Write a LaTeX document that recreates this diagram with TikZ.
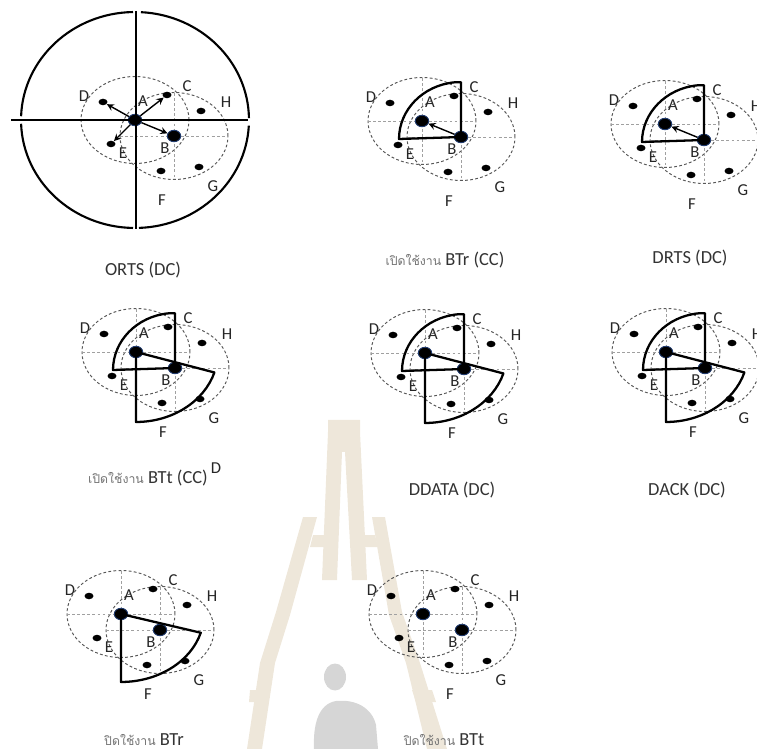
\documentclass[tikz,border=0pt]{standalone}
\usepackage{fontspec}
\setmainfont{Carlito}
\newfontfamily\thaifont[Script=Thai]{Loma}
\usetikzlibrary{shapes,arrows,positioning}

\definecolor{towerbeige}{HTML}{EEE7DA}
\definecolor{shadowgray}{HTML}{D6D6D6}
\definecolor{rangegray}{HTML}{585858}
\definecolor{gridgray}{HTML}{A0A0A0}
\definecolor{dotrim}{HTML}{1F3A6E}

\newcommand{\thaiword}[1]{{\thaifont\fontsize{7}{8}\selectfont\color{black!55}#1}}

\tikzset{
    reach/.style={draw=rangegray, dash pattern=on 1.6pt off 1.3pt, line width=0.55pt},
    quadline/.style={draw=gridgray, dash pattern=on 1.6pt off 1.3pt, line width=0.45pt},
    station/.style={ellipse, fill=black, inner sep=0pt, minimum width=0.18cm, minimum height=0.13cm},
    mainstation/.style={ellipse, fill=black, draw=dotrim, line width=0.5pt, inner sep=0pt,
        minimum width=0.27cm, minimum height=0.23cm},
    lbl/.style={font=\fontsize{9.5}{10}\selectfont, text=black!85, inner sep=0pt},
    stagecap/.style={font=\fontsize{10.5}{12}\selectfont, text=black!80, inner sep=0pt},
    sector/.style={draw=black, line width=1.3pt, line join=round},
    wall/.style={draw=black, line width=1.2pt},
    msg/.style={->, >=stealth, line width=0.8pt},
    cell/.pic={
        % ranges of A and B with their quadrant lines
        \draw[reach] (0,0) ellipse[x radius=1.08cm, y radius=0.87cm];
        \draw[reach] (39,16) ellipse[x radius=1.08cm, y radius=0.87cm];
        \draw[quadline] (-54,0) -- (54,0) (0,-43) -- (0,43);
        \draw[quadline] (-15,16) -- (93,16) (39,-27) -- (39,59);
        % stations
        \node[mainstation] (-A) at (0,0) {};
        \node[mainstation] (-B) at (39,16) {};
        \node[station] (-C) at (32,-25) {};
        \node[station] (-D) at (-32,-18) {};
        \node[station] (-E) at (-24,24) {};
        \node[station] (-F) at (26,51) {};
        \node[station] (-G) at (64,47) {};
        \node[station] (-H) at (66,-9) {};
        \node[lbl] (-a) at (8,-19) {A};
        \node[lbl] (-b) at (30,28) {B};
        \node[lbl] (-c) at (52,-34) {C};
        \node[lbl] (-d) at (-51,-24) {D};
        \node[lbl] (-e) at (-12,33) {E};
        \node[lbl] (-f) at (27,80) {F};
        \node[lbl] (-g) at (78,66) {G};
        \node[lbl] (-h) at (91,-18) {H};
    }
}

\begin{document}
\begin{tikzpicture}[x=0.02cm, y=-0.02cm]
\useasboundingbox (0,0) rectangle (757,749);

% watermark
\fill[towerbeige] (328,420) -- (360,420) -- (360,432) -- (367,580) -- (352,580)
    -- (345,452) -- (342,452) -- (337,580) -- (322,580) -- (328,432) -- cycle;
\fill[towerbeige] (313,535) -- (327,535) -- (326,547) -- (310,547) -- cycle;
\fill[towerbeige] (361,535) -- (375,535) -- (378,547) -- (362,547) -- cycle;
\fill[towerbeige] (303,517) -- (317,517) -- (290,615) -- (275,663) -- (262,749)
    -- (247,749) -- (260,663) -- (276,612) -- cycle;
\fill[towerbeige] (372,517) -- (385,517) -- (402,612) -- (420,663) -- (447,749)
    -- (427,749) -- (406,663) -- (389,615) -- cycle;
\fill[towerbeige] (250,690) -- (270,690) -- (268,702) -- (249,702) -- cycle;
\fill[towerbeige] (412,690) -- (432,690) -- (436,702) -- (416,702) -- cycle;
\fill[shadowgray] (335,677) ellipse[x radius=0.22cm, y radius=0.27cm];
\fill[shadowgray] (314,749) .. controls (313,725) and (318,704) .. (336,701)
    .. controls (356,699) and (372,708) .. (376,725) -- (378,749) -- cycle;

% ORTS (DC)
\pic (p1) at (135,120) {cell};
\draw[wall] (11,120) -- (248,120);
\draw[wall] (136,11) -- (136,229);
\draw[wall] (135,120) ++(178:2.28cm and 2.16cm)
    arc[start angle=178, end angle=91, x radius=2.28cm, y radius=2.16cm];
\draw[wall] (135,120) ++(87:2.28cm and 2.16cm)
    arc[start angle=87, end angle=1, x radius=2.28cm, y radius=2.16cm];
\draw[wall] (135,120) ++(-3:2.28cm and 2.16cm)
    arc[start angle=-3, end angle=-88, x radius=2.28cm, y radius=2.16cm];
\draw[wall] (135,120) ++(-91:2.28cm and 2.16cm)
    arc[start angle=-91, end angle=-178, x radius=2.28cm, y radius=2.16cm];
\draw[msg] (p1-A) -- (p1-D);
\draw[msg] (p1-A) -- (p1-C);
\draw[msg] (p1-A) -- (p1-E);
\draw[msg] (p1-A) -- (p1-B);
\node[stagecap] (cap1) at (143,270) {ORTS (DC)};

% BTr on (CC)
\pic (p2) at (422,121) {cell};
\draw[sector] (p2-B.center) -- ++(-62,2)
    arc[start angle=180, end angle=96, x radius=1.24cm, y radius=1.14cm] -| (p2-B.center);
\draw[msg] (p2-B) -- (p2-A);
\node[stagecap] (cap2) at (445,260) {\thaiword{เปิดใช้งาน} BTr (CC)};

% DRTS (DC)
\pic (p3) at (665,124) {cell};
\draw[sector] (p3-B.center) -- ++(-62,2)
    arc[start angle=180, end angle=96, x radius=1.24cm, y radius=1.14cm] -| (p3-B.center);
\draw[msg] (p3-B) -- (p3-A);
\node[stagecap] (cap3) at (690,258) {DRTS (DC)};

% BTt on (CC)
\pic (p4) at (136,352) {cell};
\draw[sector] (p4-B.center) -- ++(-62,2)
    arc[start angle=180, end angle=96, x radius=1.24cm, y radius=1.14cm] -| (p4-B.center);
\draw[sector] (p4-A.center) -- ++(-17:1.64cm and 1.4cm)
    arc[start angle=-17, end angle=-90, x radius=1.64cm, y radius=1.4cm] -- cycle;
\node[stagecap] (cap4) at (148,478) {\thaiword{เปิดใช้งาน} BTt (CC)};
\node[lbl] (d4) at (216,468) {D};

% DDATA (DC)
\pic (p5) at (425,353) {cell};
\draw[sector] (p5-B.center) -- ++(-62,2)
    arc[start angle=180, end angle=96, x radius=1.24cm, y radius=1.14cm] -| (p5-B.center);
\draw[sector] (p5-A.center) -- ++(-17:1.64cm and 1.4cm)
    arc[start angle=-17, end angle=-90, x radius=1.64cm, y radius=1.4cm] -- cycle;
\node[stagecap] (cap5) at (452,490) {DDATA (DC)};

% DACK (DC)
\pic (p6) at (666,352) {cell};
\draw[sector] (p6-B.center) -- ++(-62,2)
    arc[start angle=180, end angle=96, x radius=1.24cm, y radius=1.14cm] -| (p6-B.center);
\draw[sector] (p6-A.center) -- ++(-17:1.64cm and 1.4cm)
    arc[start angle=-17, end angle=-90, x radius=1.64cm, y radius=1.4cm] -- cycle;
\node[stagecap] (cap6) at (687,490) {DACK (DC)};

% BTr off
\pic (p7) at (121,614) {cell};
\draw[sector] (p7-A.center) -- ++(-16:1.66cm and 1.36cm)
    arc[start angle=-16, end angle=-90, x radius=1.66cm, y radius=1.36cm] -- cycle;
\node[stagecap] (cap7) at (144,740) {\thaiword{ปิดใช้งาน} BTr};

% BTt off
\pic (p8) at (423,614) {cell};
\node[stagecap] (cap8) at (444,740) {\thaiword{ปิดใช้งาน} BTt};
\end{tikzpicture}
\end{document}
